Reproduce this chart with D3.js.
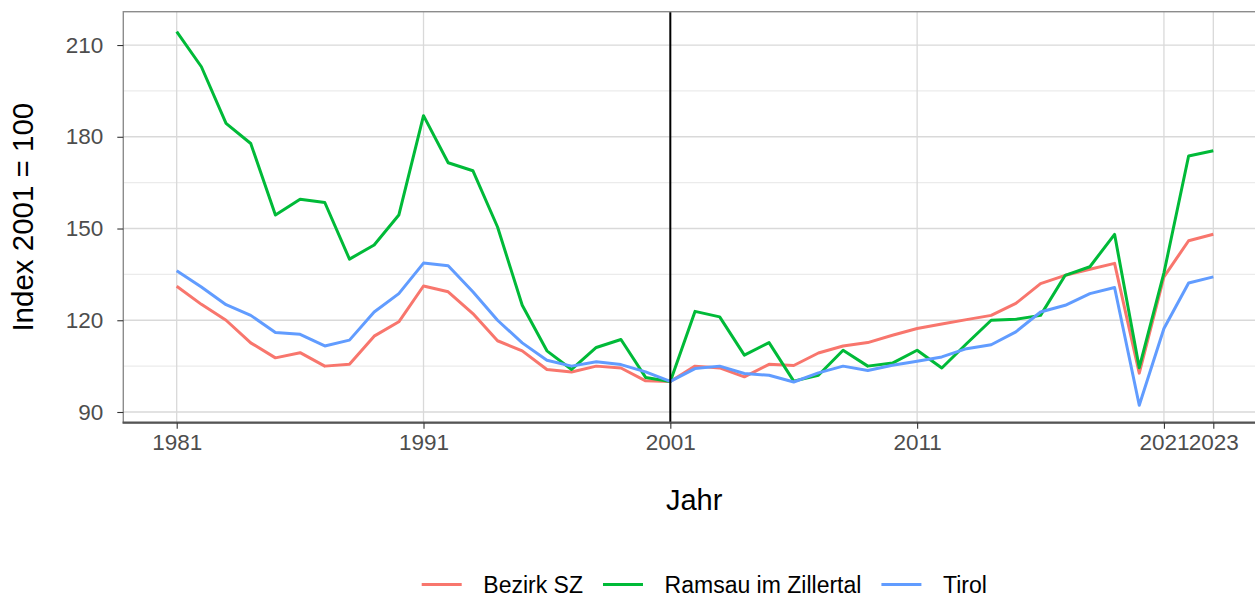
<!DOCTYPE html>
<html><head><meta charset="utf-8">
<script src="https://cdn.jsdelivr.net/npm/d3@7"></script>
<style>
html,body{margin:0;padding:0;background:#fff;overflow:hidden;}
text{font-family:"Liberation Sans",Arial,sans-serif;}
</style></head>
<body>
<svg id="chart" width="1255" height="597"></svg>
<script>
const years = d3.range(1981, 2024);
const bezirkSZ = [131.1,125.2,120.0,112.6,107.7,109.4,105.0,105.6,114.8,119.5,
  131.2,129.3,122.2,113.3,110.0,103.9,103.1,105.0,104.4,100.2,
  100.0,105.0,104.4,101.5,105.6,105.2,109.3,111.6,112.7,115.1,
  117.3,118.8,120.2,121.6,125.5,132.0,134.7,136.7,138.6,102.7,
  134.2,146.0,148.1];
const ramsau = [214.4,202.9,184.4,177.8,154.4,159.6,158.5,140.0,144.6,154.4,
  186.9,171.5,168.9,150.5,124.9,110.0,103.9,111.1,113.7,101.3,
  100.0,122.9,121.1,108.6,112.7,100.1,102.0,110.2,105.0,106.0,
  110.2,104.4,112.3,120.0,120.3,121.6,134.7,137.5,148.1,104.5,
  135.5,173.7,175.4];
const tirol = [136.2,130.9,125.1,121.6,116.0,115.4,111.6,113.5,122.7,128.7,
  138.7,137.8,129.3,120.0,112.6,106.9,105.0,106.4,105.5,103.1,
  100.0,104.2,105.0,102.6,102.0,99.8,102.8,105.0,103.6,105.3,
  106.6,108.0,110.7,112.0,116.2,122.7,124.9,128.7,130.7,92.2,
  117.3,132.2,134.2];
const seriesNames = ["Bezirk SZ", "Ramsau im Zillertal", "Tirol"];
const seriesColors = ["#F8766D", "#00BA38", "#619CFF"];
const xBreaks = [1981, 1991, 2001, 2011, 2021, 2023];
const yBreaks = [90, 120, 150, 180, 210];
const yMinor = [105, 135, 165, 195];
const refYear = 2001;

const series = [bezirkSZ, ramsau, tirol];

const svg = d3.select("#chart");
const panel = {left: 123.3, right: 1265, top: 11.7, bottom: 422.7};

const x = d3.scaleLinear().domain([1981, 2023]).range([176.7, 1213.3]);
const y = d3.scaleLinear().domain([86.5, 220.9]).range([panel.bottom, panel.top]);

// grid
const g = svg.append("g");
g.selectAll(".minor").data(yMinor).enter().append("line")
  .attr("x1", panel.left).attr("x2", panel.right)
  .attr("y1", d => y(d)).attr("y2", d => y(d))
  .attr("stroke", "#ebebeb").attr("stroke-width", 1.1);
g.selectAll(".majorY").data(yBreaks).enter().append("line")
  .attr("x1", panel.left).attr("x2", panel.right)
  .attr("y1", d => y(d)).attr("y2", d => y(d))
  .attr("stroke", "#d9d9d9").attr("stroke-width", 1.3);
g.selectAll(".majorX").data(xBreaks).enter().append("line")
  .attr("y1", panel.top).attr("y2", panel.bottom)
  .attr("x1", d => x(d)).attr("x2", d => x(d))
  .attr("stroke", "#d9d9d9").attr("stroke-width", 1.3);

// lines
const line = d3.line().x((d, i) => x(years[i])).y(d => y(d));
series.forEach((s, i) => {
  svg.append("path").datum(s)
    .attr("d", line)
    .attr("fill", "none")
    .attr("stroke", seriesColors[i])
    .attr("stroke-width", 3)
    .attr("stroke-linejoin", "round");
});

// reference line
svg.append("line")
  .attr("x1", x(refYear)).attr("x2", x(refYear))
  .attr("y1", panel.top).attr("y2", panel.bottom)
  .attr("stroke", "#000").attr("stroke-width", 2);

// panel border
svg.append("rect")
  .attr("x", panel.left).attr("y", panel.top)
  .attr("width", panel.right - panel.left).attr("height", panel.bottom - panel.top)
  .attr("fill", "none").attr("stroke", "#8c8c8c").attr("stroke-width", 1.4);
svg.append("line")
  .attr("x1", panel.left - 0.7).attr("x2", panel.right)
  .attr("y1", panel.bottom).attr("y2", panel.bottom)
  .attr("stroke", "#555").attr("stroke-width", 2.2);

// axes
const xAxis = d3.axisBottom(x).tickValues(xBreaks).tickFormat(d3.format("d"))
  .tickSizeInner(6).tickSizeOuter(0).tickPadding(5);
const xg = svg.append("g").attr("transform", `translate(0,${panel.bottom})`).call(xAxis);
xg.select(".domain").remove();
xg.selectAll(".tick line").attr("stroke", "#333").attr("stroke-width", 1.1);
xg.selectAll(".tick text").attr("fill", "#4d4d4d").style("font-size", "22.5px")
  .style("font-family", '"Liberation Sans",Arial,sans-serif');

const yAxis = d3.axisLeft(y).tickValues(yBreaks).tickSizeInner(6).tickSizeOuter(0).tickPadding(14);
const yg = svg.append("g").attr("transform", `translate(${panel.left},0)`).call(yAxis);
yg.select(".domain").remove();
yg.selectAll(".tick line").attr("stroke", "#333").attr("stroke-width", 1.1);
yg.selectAll(".tick text").attr("fill", "#4d4d4d").style("font-size", "22.5px")
  .style("font-family", '"Liberation Sans",Arial,sans-serif');

// titles
svg.append("text").attr("x", (panel.left + panel.right) / 2).attr("y", 510)
  .attr("text-anchor", "middle").style("font-size", "29px").attr("fill", "#000").text("Jahr");
svg.append("text")
  .attr("transform", `translate(33,${(panel.top + panel.bottom) / 2}) rotate(-90)`)
  .attr("text-anchor", "middle").style("font-size", "29.5px").attr("fill", "#000")
  .text("Index 2001 = 100");

// legend
let lx = 421.7;
const ly = 584.5;
seriesNames.forEach((name, i) => {
  svg.append("line").attr("x1", lx).attr("x2", lx + 40).attr("y1", ly).attr("y2", ly)
    .attr("stroke", seriesColors[i]).attr("stroke-width", 3);
  const t = svg.append("text").attr("x", lx + 61.6).attr("y", ly + 8)
    .style("font-size", "23px").attr("fill", "#000").text(name);
  lx = lx + 61.6 + t.node().getComputedTextLength() + 20;
});
</script>
</body></html>
